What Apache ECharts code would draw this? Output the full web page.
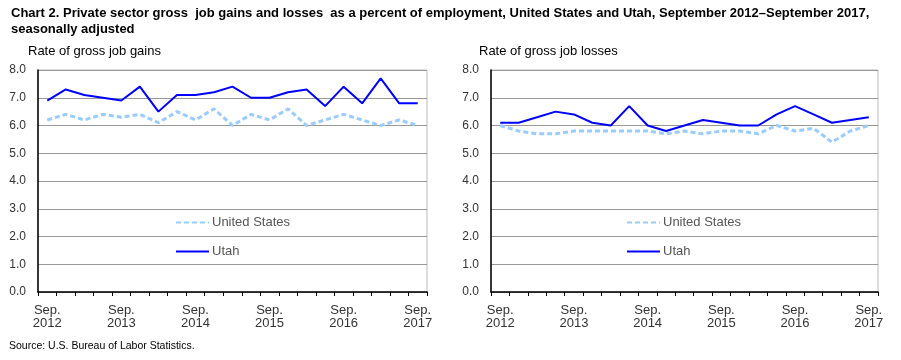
<!DOCTYPE html>
<html><head><meta charset="utf-8">
<script src="https://cdn.jsdelivr.net/npm/echarts@6/dist/echarts.min.js"></script>
<style>html,body{margin:0;padding:0;background:#fff}#c{width:901px;height:360px}</style>
</head><body><div id="c"></div>
<script>
const quarterLabels = ['Sep.\n2012','Dec.\n2012','Mar.\n2013','Jun.\n2013','Sep.\n2013','Dec.\n2013','Mar.\n2014','Jun.\n2014','Sep.\n2014','Dec.\n2014','Mar.\n2015','Jun.\n2015','Sep.\n2015','Dec.\n2015','Mar.\n2016','Jun.\n2016','Sep.\n2016','Dec.\n2016','Mar.\n2017','Jun.\n2017','Sep.\n2017'];
const yTicks = [0,1,2,3,4,5,6,7,8];
const gainsUS   = [6.2,6.4,6.2,6.4,6.3,6.4,6.1,6.5,6.2,6.6,6.0,6.4,6.2,6.6,6.0,6.2,6.4,6.2,6.0,6.2,6.0];
const gainsUtah = [6.9,7.3,7.1,7.0,6.9,7.4,6.5,7.1,7.1,7.2,7.4,7.0,7.0,7.2,7.3,6.7,7.4,6.8,7.7,6.8,6.8];
const lossesUS   = [6.0,5.8,5.7,5.7,5.8,5.8,5.8,5.8,5.8,5.7,5.8,5.7,5.8,5.8,5.7,6.0,5.8,5.9,5.4,5.8,6.0];
const lossesUtah = [6.1,6.1,6.3,6.5,6.4,6.1,6.0,6.7,6.0,5.8,6.0,6.2,6.1,6.0,6.0,6.4,6.7,6.4,6.1,6.2,6.3];

const FONT = 'Arial, "Liberation Sans", sans-serif';
const chart = echarts.init(document.getElementById('c'), null, {renderer:'canvas'});

function xAxis(gi){
  return {
    type:'category', gridIndex:gi, data:quarterLabels, boundaryGap:true,
    axisLine:{show:true, lineStyle:{color:'#000', width:1.5}},
    axisTick:{show:true, interval:0, length:4, lineStyle:{color:'#000'}},
    axisLabel:{interval:3, color:'#333', fontFamily:FONT, fontSize:13, lineHeight:13, margin:12},
    splitLine:{show:false}
  };
}
function yAxis(gi){
  return {
    type:'value', gridIndex:gi, min:yTicks[0], max:yTicks[yTicks.length-1], interval:1,
    axisLine:{show:true, lineStyle:{color:'#000', width:1.5}},
    axisTick:{show:false},
    axisLabel:{color:'#333', fontFamily:FONT, fontSize:12, margin:12, formatter:v=>v.toFixed(1)},
    splitLine:{show:true, lineStyle:{color:'#999', width:1}}
  };
}
const usStyle = {color:'#99ccff', width:3, type:[5,3]};
const utStyle = {color:'#0000ff', width:2};
function s(name, gi, data, ls){
  return {name, type:'line', xAxisIndex:gi, yAxisIndex:gi, data, symbol:'none',
    lineStyle:ls, itemStyle:{color:ls.color}, z: name==='Utah'?3:2, animation:false};
}
function legend(left){
  return {orient:'vertical', left, top:211, itemWidth:33, itemHeight:14, itemGap:16,
    data:['United States','Utah'],
    itemStyle:{opacity:0},
    textStyle:{color:'#555', fontFamily:FONT, fontSize:13, padding:[0,0,0,-2]}};
}
chart.setOption({
  animation:false,
  title:{text:'Chart 2. Private sector gross  job gains and losses  as a percent of employment, United States and Utah, September 2012\u2013September 2017,\nseasonally adjusted',
    left:6, top:0, textStyle:{fontFamily:FONT, fontSize:13, fontWeight:'bold', color:'#000', lineHeight:16}},
  grid:[
    {left:38, top:70, width:389, height:222, show:true, borderColor:'#bbb', borderWidth:1},
    {left:491, top:70, width:387, height:222, show:true, borderColor:'#bbb', borderWidth:1}
  ],
  xAxis:[xAxis(0), xAxis(1)],
  yAxis:[yAxis(0), yAxis(1)],
  legend:[legend(170), legend(621)],
  series:[
    s('United States',0,gainsUS,usStyle), s('Utah',0,gainsUtah,utStyle),
    s('United States',1,lossesUS,usStyle), s('Utah',1,lossesUtah,utStyle)
  ],
  graphic:[
    {type:'text', left:28, top:45, style:{text:'Rate of gross job gains', font:'13px '+FONT, fill:'#000'}},
    {type:'text', left:479, top:45, style:{text:'Rate of gross job losses', font:'13px '+FONT, fill:'#000'}},
    {type:'text', left:9, top:341, style:{text:'Source: U.S. Bureau of Labor Statistics.', font:'10.5px '+FONT, fill:'#000'}}
  ]
});
</script></body></html>
